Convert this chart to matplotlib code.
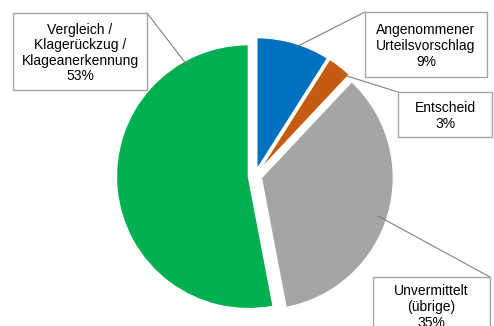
import matplotlib.pyplot as plt
from matplotlib.patches import Rectangle

# data
labels = ["Angenommener\nUrteilsvorschlag", "Entscheid", "Unvermittelt\n(übrige)",
          "Vergleich /\nKlagerückzug /\nKlageanerkennung"]
values = [9, 3, 35, 53]
colors = ["#0070C0", "#C55A11", "#A5A5A5", "#00B050"]

# label boxes in pixels: left, top, right, bottom ; anchor on slice ; box corner for leader
boxes = [(365, 12, 487, 77), (398, 92, 492, 137), (373, 277, 490, 345), (13, 13, 147, 90)]
text_y = [46, 116, 307, 53]
anchors = [(298, 46), (347, 76), (378, 216), (187, 65)]
corners = [(365, 12), (398, 92), (490, 277), (147, 13)]

W, H = 494, 326
plt.rcParams['font.family'] = ['Liberation Sans', 'DejaVu Sans']

fig = plt.figure(figsize=(W / 100, H / 100), dpi=100)
ax = fig.add_axes([0, 0, 1, 1])

cx, cy, r = 255, 176, 132
ax.pie(values, colors=colors, startangle=90, counterclock=False,
       explode=[0.05] * 4, wedgeprops=dict(linewidth=1, edgecolor="white"))
ax.set_xlim(-cx / r, (W - cx) / r)
ax.set_ylim(-(H - cy) / r, cy / r)
ax.set_aspect("auto")
ax.axis("off")


def fx(x):
    return x / W


def fy(y):
    return 1 - y / H


total = sum(values)
for lab, v, b, ty, a, c in zip(labels, values, boxes, text_y, anchors, corners):
    l, t, rr, bt = b
    fig.add_artist(Rectangle((fx(l), fy(bt)), (rr - l) / W, (bt - t) / H,
                             transform=fig.transFigure, facecolor="white",
                             edgecolor="#A6A6A6", linewidth=1, zorder=3))
    fig.text(fx((l + rr) / 2), fy(ty), lab + "\n" + f"{round(v / total * 100)}%",
             ha="center", va="center", fontsize=10, color="#000000",
             linespacing=1.15, zorder=4)
    fig.add_artist(plt.Line2D([fx(a[0]), fx(c[0])], [fy(a[1]), fy(c[1])],
                              transform=fig.transFigure, color="#808080",
                              linewidth=0.8, zorder=2))

fig.savefig("out.png", dpi=100)
